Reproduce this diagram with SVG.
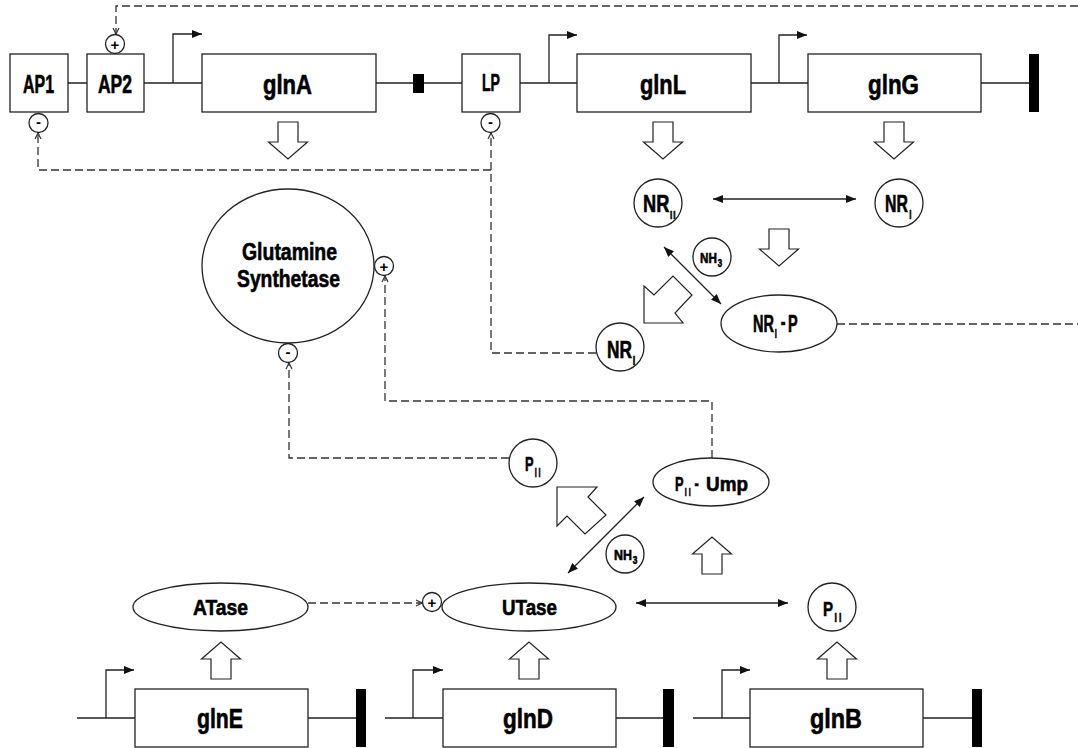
<svg xmlns="http://www.w3.org/2000/svg" xmlns:xlink="http://www.w3.org/1999/xlink" width="1078" height="748" viewBox="0 0 1078 748">
<defs>
<style>
.ln{stroke:#222;stroke-width:1.3;fill:none}
.dash{stroke:#333;stroke-width:1.3;fill:none;stroke-dasharray:8 4}
.box{fill:#fff;stroke:#222;stroke-width:1.3}
.blk{fill:#000}
.t{font-family:"Liberation Sans",Arial,sans-serif;font-weight:bold;fill:#000;stroke:#000;stroke-width:0.6}
.ha{fill:#fff;stroke:#222;stroke-width:1.2}
.pm{font-family:"Liberation Sans",Arial,sans-serif;font-weight:bold;fill:#000;font-size:15px;text-anchor:middle}
</style>
<marker id="fa" viewBox="0 0 10 8" refX="10" refY="4" markerWidth="10" markerHeight="8" markerUnits="userSpaceOnUse" orient="auto-start-reverse"><path d="M0,0L10,4L0,8z" fill="#111"/></marker>
<marker id="oa" viewBox="0 0 8 8" refX="7" refY="4" markerWidth="8" markerHeight="8" markerUnits="userSpaceOnUse" orient="auto"><path d="M1,1L7,4L1,7" fill="none" stroke="#333" stroke-width="1.2"/></marker>
<path id="dn" d="M-10,0H10V20H19.5L0,37L-19.5,20H-10Z" class="ha"/>
<path id="up" d="M-10,0H10V-20H19.5L0,-37L-19.5,-20H-10Z" class="ha"/>
</defs>
<rect width="1078" height="748" fill="#fff"/>

<g id="connectors">
  <path class="ln" d="M68,83H87M144,83H202M376,83H462M520,83H577M751,83H808M981,83H1029"/>
  <path class="ln" d="M77,718H135M308,718H356M385,718H443M616,718H663M693,718H750M923,718H972"/>
  <path class="ln" d="M173,83V34H202" marker-end="url(#fa)"/>
  <path class="ln" d="M549,83V35H577" marker-end="url(#fa)"/>
  <path class="ln" d="M779,83V35H807" marker-end="url(#fa)"/>
  <path class="ln" d="M106,718V670H134" marker-end="url(#fa)"/>
  <path class="ln" d="M413,718V670H443" marker-end="url(#fa)"/>
  <path class="ln" d="M722,718V670H750" marker-end="url(#fa)"/>
  <path class="dash" d="M1078,6H116V34" marker-end="url(#oa)"/>
  <path class="dash" d="M596,353H491V133" marker-end="url(#oa)"/>
  <path class="dash" d="M491,170H38V133" marker-end="url(#oa)"/>
  <path class="dash" d="M837,324H1078"/>
  <path class="dash" d="M712,458V401H385V276" marker-end="url(#oa)"/>
  <path class="dash" d="M509,458H289V363" marker-end="url(#oa)"/>
  <path class="dash" d="M308,603H422" marker-end="url(#oa)"/>
  <path class="ln" d="M713,199H856" marker-start="url(#fa)" marker-end="url(#fa)"/>
  <path class="ln" d="M664,247L721,304" marker-start="url(#fa)" marker-end="url(#fa)"/>
  <path class="ln" d="M568,573L644,497" marker-start="url(#fa)" marker-end="url(#fa)"/>
  <path class="ln" d="M636,603H788" marker-start="url(#fa)" marker-end="url(#fa)"/>
  <use xlink:href="#dn" x="288" y="122"/>
  <use xlink:href="#dn" x="663" y="122"/>
  <use xlink:href="#dn" x="894" y="122"/>
  <use xlink:href="#dn" x="779" y="229"/>
  <use xlink:href="#up" x="221" y="679"/>
  <use xlink:href="#up" x="529" y="679"/>
  <use xlink:href="#up" x="837" y="679"/>
  <use xlink:href="#up" x="712" y="574"/>
  <polygon class="ha" points="644,286 654,295 673,276 692,295 675,313 683,323 644,323"/>
  <polygon class="ha" points="557,487 597,487 588,497 606,515 585,534 567,516 557,526"/>
</g>

<g id="AP1"><rect class="box" x="10" y="54" width="58" height="58"/><text class="t" x="23" y="93" font-size="25" textLength="31" lengthAdjust="spacingAndGlyphs">AP1</text></g>
<g id="AP2"><rect class="box" x="87" y="54" width="57" height="58"/><text class="t" x="98" y="93" font-size="25" textLength="34" lengthAdjust="spacingAndGlyphs">AP2</text></g>
<g id="glnA"><rect class="box" x="202" y="54" width="174" height="58"/><text class="t" x="263" y="94" font-size="27" textLength="49" lengthAdjust="spacingAndGlyphs">glnA</text></g>
<g id="term1"><rect class="blk" x="413" y="74" width="11" height="19"/></g>
<g id="LP"><rect class="box" x="462" y="54" width="58" height="58"/><text class="t" x="482" y="91" font-size="23" textLength="18" lengthAdjust="spacingAndGlyphs">LP</text></g>
<g id="glnL"><rect class="box" x="577" y="54" width="174" height="58"/><text class="t" x="640" y="94" font-size="27" textLength="46" lengthAdjust="spacingAndGlyphs">glnL</text></g>
<g id="glnG"><rect class="box" x="808" y="54" width="173" height="58"/><text class="t" x="868" y="94" font-size="27" textLength="51" lengthAdjust="spacingAndGlyphs">glnG</text></g>
<g id="term2"><rect class="blk" x="1029" y="54" width="10" height="58"/></g>

<g id="plusAP2"><circle class="box" cx="115" cy="44" r="9.5"/><text class="pm" x="115" y="49.5">+</text></g>
<g id="minusAP1"><circle class="box" cx="38.5" cy="123" r="9.5"/><text class="pm" x="38.5" y="127" font-size="17">-</text></g>
<g id="minusLP"><circle class="box" cx="490.5" cy="123" r="9.5"/><text class="pm" x="490.5" y="127" font-size="17">-</text></g>

<g id="GS"><ellipse class="box" cx="288" cy="266" rx="86" ry="77"/>
<text class="t" x="242" y="260" font-size="23" textLength="95" lengthAdjust="spacingAndGlyphs">Glutamine</text>
<text class="t" x="237" y="287" font-size="23" textLength="103" lengthAdjust="spacingAndGlyphs">Synthetase</text></g>
<g id="plusGS"><circle class="box" cx="384" cy="266" r="9.5"/><text class="pm" x="384" y="271.5">+</text></g>
<g id="minusGS"><circle class="box" cx="288" cy="353" r="9.5"/><text class="pm" x="288" y="357" font-size="17">-</text></g>

<g id="NRII"><circle class="box" cx="658" cy="203" r="24"/>
<text class="t" transform="translate(643,212) scale(0.76,1)" font-size="24">NR<tspan dx="1" dy="7" font-size="11" letter-spacing="1">II</tspan></text></g>
<g id="NRI_top"><circle class="box" cx="899" cy="203" r="24"/>
<text class="t" transform="translate(885,212) scale(0.66,1)" font-size="24">NR<tspan dx="2" dy="7" font-size="12">I</tspan></text></g>
<g id="NH3_top"><circle class="box" cx="712" cy="257" r="19"/>
<text class="t" transform="translate(700,263) scale(0.78,1)" font-size="15">NH<tspan dx="1" dy="4" font-size="10">3</tspan></text></g>
<g id="NRI_P"><ellipse class="box" cx="779" cy="323.5" rx="58" ry="28.5"/>
<text class="t" transform="translate(753,332) scale(0.63,1)" font-size="23">NR<tspan dx="1.5" dy="6" font-size="12">I</tspan><tspan dx="6" dy="-8">-</tspan><tspan dx="4" dy="2">P</tspan></text></g>
<g id="NRI_low"><circle class="box" cx="620" cy="347" r="24"/>
<text class="t" transform="translate(607,358) scale(0.75,1)" font-size="23">NR<tspan dx="1" dy="7" font-size="12">I</tspan></text></g>

<g id="PII_left"><circle class="box" cx="533" cy="463" r="24"/>
<text class="t" transform="translate(525,471) scale(0.61,1)" font-size="21">P<tspan dx="2" dy="6" font-size="12" letter-spacing="3">II</tspan></text></g>
<g id="PII_Ump"><ellipse class="box" cx="711" cy="482" rx="58" ry="24"/>
<text class="t" transform="translate(675,491) scale(0.64,1)" font-size="20">P<tspan dx="2" dy="5" font-size="11" letter-spacing="3">II</tspan><tspan dx="3" dy="-6.5">-</tspan></text>
<text class="t" x="706" y="491" font-size="20" textLength="42" lengthAdjust="spacingAndGlyphs">Ump</text></g>
<g id="NH3_low"><circle class="box" cx="625" cy="554" r="19"/>
<text class="t" transform="translate(614,560) scale(0.83,1)" font-size="15">NH<tspan dx="1" dy="4" font-size="10">3</tspan></text></g>

<g id="ATase"><ellipse class="box" cx="220.5" cy="607" rx="87.5" ry="24"/><text class="t" x="193" y="615" font-size="22" textLength="55" lengthAdjust="spacingAndGlyphs">ATase</text></g>
<g id="plusUT"><circle class="box" cx="432" cy="602" r="9.5"/><text class="pm" x="432" y="607.5">+</text></g>
<g id="UTase"><ellipse class="box" cx="529" cy="607" rx="87" ry="24"/><text class="t" x="502" y="615" font-size="22" textLength="55" lengthAdjust="spacingAndGlyphs">UTase</text></g>
<g id="PII_right"><circle class="box" cx="832" cy="607" r="24"/>
<text class="t" transform="translate(823,616) scale(0.72,1)" font-size="21">P<tspan dx="2" dy="6" font-size="12" letter-spacing="3">II</tspan></text></g>

<g id="glnE"><rect class="box" x="135" y="689" width="173" height="58"/><text class="t" x="197" y="728" font-size="27" textLength="46" lengthAdjust="spacingAndGlyphs">glnE</text></g>
<g id="termE"><rect class="blk" x="356" y="689" width="10" height="58"/></g>
<g id="glnD"><rect class="box" x="443" y="689" width="173" height="58"/><text class="t" x="503" y="728" font-size="27" textLength="50" lengthAdjust="spacingAndGlyphs">glnD</text></g>
<g id="termD"><rect class="blk" x="663" y="689" width="11" height="58"/></g>
<g id="glnB"><rect class="box" x="750" y="689" width="173" height="58"/><text class="t" x="810" y="728" font-size="27" textLength="52" lengthAdjust="spacingAndGlyphs">glnB</text></g>
<g id="termB"><rect class="blk" x="972" y="689" width="10" height="58"/></g>
</svg>
